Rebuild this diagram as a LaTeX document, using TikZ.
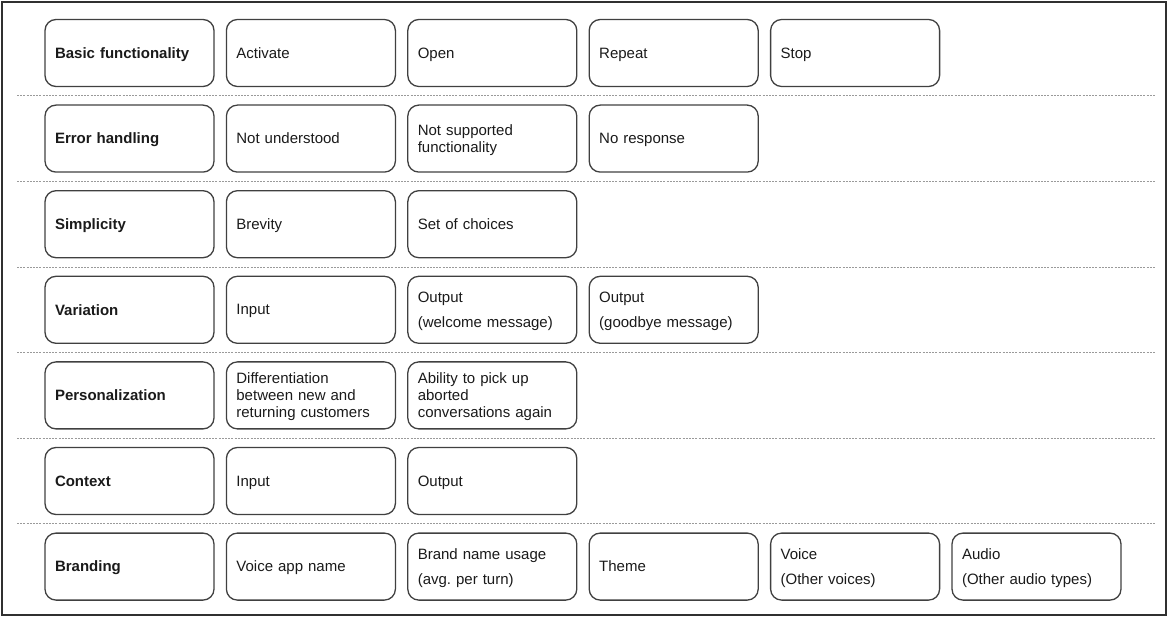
\documentclass[tikz,border=0pt]{standalone}
\usepackage{fontspec}
\setmainfont{Liberation Sans}
\definecolor{boxgray}{HTML}{404040}
\definecolor{textdark}{HTML}{1A1A1A}
\definecolor{sepgray}{HTML}{9A9A9A}
\definecolor{framegray}{HTML}{303030}
% strut centred on the cap height, so every cell text sits in the middle
\newcommand\cellstrut{\rule[-2.65pt]{0pt}{16pt}}
\frenchspacing
\begin{document}
\begin{tikzpicture}[x=1pt,y=-1pt,
  cell/.style={draw=boxgray, line width=1.3pt, rounded corners=11pt,
    minimum height=67pt, text width=149pt, inner xsep=10pt, inner ysep=0pt,
    align=left, text=textdark, font=\fontsize{15}{17}\selectfont,
    execute at begin node=\cellstrut, execute at end node=\cellstrut},
  head/.style={cell, font=\fontsize{15}{17}\selectfont\bfseries},
  sep/.style={draw=sepgray, line width=0.8pt, dash pattern=on 2pt off 1.2pt},
  frame/.style={draw=framegray, line width=1.4pt}]
\useasboundingbox (0,0) rectangle (1168,617);
\draw[frame] (2,2) rectangle (1166,615);

% column centres
\def\ca{129.5}\def\cb{310.9}\def\cc{492.3}\def\cd{673.7}\def\ce{855.1}\def\cf{1036.5}

% row 1: basic functionality
\node[head] (bf)  at (\ca,53) {Basic functionality};
\node[cell] (bf1) at (\cb,53) {Activate};
\node[cell] (bf2) at (\cc,53) {Open};
\node[cell] (bf3) at (\cd,53) {Repeat};
\node[cell] (bf4) at (\ce,53) {Stop};

% row 2: error handling
\node[head] (eh)  at (\ca,138.6) {Error handling};
\node[cell] (eh1) at (\cb,138.6) {Not understood};
\node[cell] (eh2) at (\cc,138.6) {Not supported\\functionality};
\node[cell] (eh3) at (\cd,138.6) {No response};

% row 3: simplicity
\node[head] (si)  at (\ca,224.2) {Simplicity};
\node[cell] (si1) at (\cb,224.2) {Brevity};
\node[cell] (si2) at (\cc,224.2) {Set of choices};

% row 4: variation
\node[head] (va)  at (\ca,309.8) {Variation};
\node[cell] (va1) at (\cb,309.8) {Input};
\node[cell] (va2) at (\cc,309.8) {Output\\[8pt](welcome message)};
\node[cell] (va3) at (\cd,309.8) {Output\\[8pt](goodbye message)};

% row 5: personalization
\node[head] (pe)  at (\ca,395.4) {Personalization};
\node[cell] (pe1) at (\cb,395.4) {Differentiation\\between new and\\returning customers};
\node[cell] (pe2) at (\cc,395.4) {Ability to pick up\\aborted\\conversations again};

% row 6: context
\node[head] (co)  at (\ca,481) {Context};
\node[cell] (co1) at (\cb,481) {Input};
\node[cell] (co2) at (\cc,481) {Output};

% row 7: branding
\node[head] (br)  at (\ca,566.6) {Branding};
\node[cell] (br1) at (\cb,566.6) {Voice app name};
\node[cell] (br2) at (\cc,566.6) {Brand name usage\\[8pt](avg. per turn)};
\node[cell] (br3) at (\cd,566.6) {Theme};
\node[cell] (br4) at (\ce,566.6) {Voice\\[8pt](Other voices)};
\node[cell] (br5) at (\cf,566.6) {Audio\\[8pt](Other audio types)};

% dashed separators between the rows
\foreach \y [count=\i] in {95.8,181.4,267,352.6,438.2,523.8} {
  \coordinate (sepL\i) at (17,\y);
  \coordinate (sepR\i) at (1155,\y);
  \draw[sep] (sepL\i) -- (sepR\i);
}
\end{tikzpicture}
\end{document}
